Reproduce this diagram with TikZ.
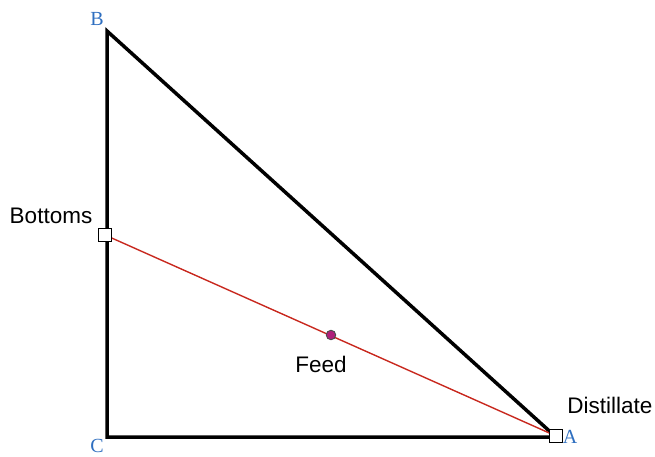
\documentclass[tikz,border=0pt]{standalone}
\usepackage{fontspec}
\setmainfont{Liberation Serif}
\newfontfamily\labelsans{Liberation Sans}
\definecolor{vtxblue}{HTML}{2F6FC0}
\definecolor{feedred}{HTML}{C8281E}
\definecolor{feedmag}{HTML}{B0207A}
\begin{document}
\begin{tikzpicture}[x=1pt,y=-1pt,
  vlabel/.style={text=vtxblue,font=\fontsize{20}{20}\selectfont,inner sep=0pt},
  slabel/.style={font=\labelsans\fontsize{22.5}{22.5}\selectfont,inner sep=0pt,anchor=base},
  edge/.style={line width=3.5pt},
  ratio/.style={feedred,line width=1.4pt},
  stream/.style={draw=black,fill=white,line width=1.1pt,minimum size=13pt,inner sep=0pt},
  feeddot/.style={circle,draw=black!70,fill=feedmag,line width=0.9pt,minimum size=9.5pt,inner sep=0pt}]
\useasboundingbox (0,0) rectangle (655,456);
\coordinate (B) at (107,31);
\coordinate (C) at (107,437);
\coordinate (A) at (556,437);
\draw[edge] (B) -- (C) -- (A) -- cycle;
\node[stream] (bot) at (105,235) {};
\node[stream] (dist) at (556,436) {};
\draw[ratio] (bot.center) -- (dist.center);
\node[stream] at (bot) {};
\node[stream] at (dist) {};
\node[feeddot] (feed) at (331,335) {};
\node[vlabel] (lB) at (97,19) {B};
\node[vlabel] (lA) at (570,437) {A};
\node[vlabel] (lC) at (97,446) {C};
\node[slabel] (tBot) at (51,223) {Bottoms};
\node[slabel] (tFeed) at (321,372) {Feed};
\node[slabel] (tDist) at (610,413) {Distillate};
\end{tikzpicture}
\end{document}
